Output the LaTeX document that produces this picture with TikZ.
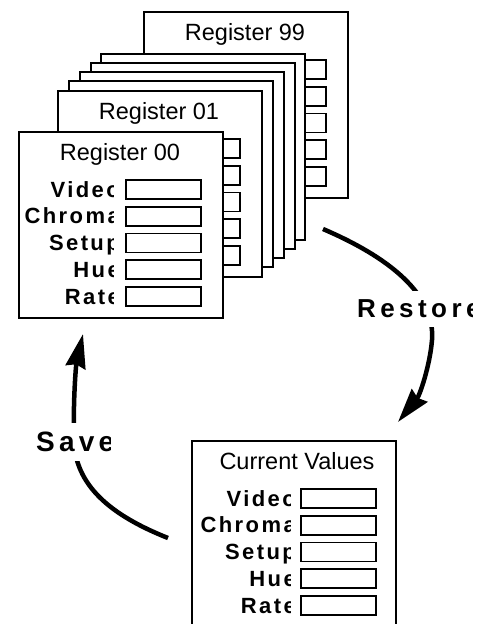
\documentclass[tikz,border=0pt]{standalone}
\usepackage{fontspec}
\setmainfont{Liberation Sans}
\newfontfamily\keyfont[LetterSpace=11]{Liberation Sans}
\newfontfamily\verbfont[LetterSpace=17]{Liberation Sans}
\usetikzlibrary{arrows.meta}

\begin{document}
\begin{tikzpicture}[x=1pt,y=-1pt,
    regbox/.style={draw,line width=2pt,fill=white,minimum width=204pt,minimum height=186pt,inner sep=0pt,anchor=north west},
    field/.style={draw,line width=1.8pt,fill=white,minimum width=75pt,minimum height=19pt,inner sep=0pt,anchor=north west},
    title/.style={font=\fontsize{23.5}{27}\selectfont,anchor=base,inner sep=0pt},
    key/.style={font=\keyfont\bfseries\fontsize{22}{26}\selectfont,anchor=base east,inner sep=0pt},
    verb/.style={font=\verbfont\bfseries\fontsize{26}{30}\selectfont,fill=white,inner xsep=2pt,inner ysep=9pt,anchor=west},
    flow/.style={line width=4.5pt,-{Stealth[length=34pt,width=20pt,inset=3pt]}}]
  \useasboundingbox (0,0) rectangle (481,624);
  % register stack, back to front
  \foreach \n/\x/\y/\t in {r99/143/11/Register 99, s4/100/53/{}, s3/90/62/{}, s2/79/71/{}, s1/68/80/{}, r01/57/90/Register 01, r00/18/131/Register 00}{
    \node[regbox] (\n) at (\x,\y) {};
    \node[title] (\n-t) at (\x+102,\y+29) {\t};
    \foreach \r in {0,...,4}
      \node[field] (\n-f\r) at (\x+107,\y+48+26.75*\r) {};
  }
  \begin{scope}
    \clip (18,131) rectangle (113,317);
    \foreach \k [count=\i from 0] in {Video,Chroma,Setup,Hue,Rate}
      \node[key] (r00-k\i) at (120,197+26.75*\i) {\k};
  \end{scope}
  % current values
  \node[regbox] (cur) at (191,440) {};
  \node[title] (cur-t) at (297,469) {Current Values};
  \foreach \r in {0,...,4}
    \node[field] (cur-f\r) at (300,488+26.75*\r) {};
  \begin{scope}
    \clip (191,440) rectangle (290,624);
    \foreach \k [count=\i from 0] in {Video,Chroma,Setup,Hue,Rate}
      \node[key] (cur-k\i) at (296,506+26.75*\i) {\k};
  \end{scope}
  % restore / save
  \coordinate (restore-a) at (323,229);
  \coordinate (restore-b) at (398,422);
  \coordinate (save-a) at (168,538);
  \coordinate (save-b) at (83,334);
  \draw[flow] (restore-a) .. controls (400,262) and (435,300) .. (432,340)
    .. controls (430,365) and (420,395) .. (restore-b);
  \draw[flow] (save-a) .. controls (110,515) and (75,485) .. (74,440)
    .. controls (73,400) and (76,365) .. (save-b);
  \begin{scope}
    \clip (0,0) rectangle (472,624);
    \node[verb] (restore) at (355,309) {Restore};
  \end{scope}
  \begin{scope}
    \clip (0,0) rectangle (110,624);
    \node[verb,font=\verbfont\addfontfeatures{LetterSpace=15}\bfseries\fontsize{28}{32}\selectfont] (save) at (34,442) {Save};
  \end{scope}
\end{tikzpicture}
\end{document}
